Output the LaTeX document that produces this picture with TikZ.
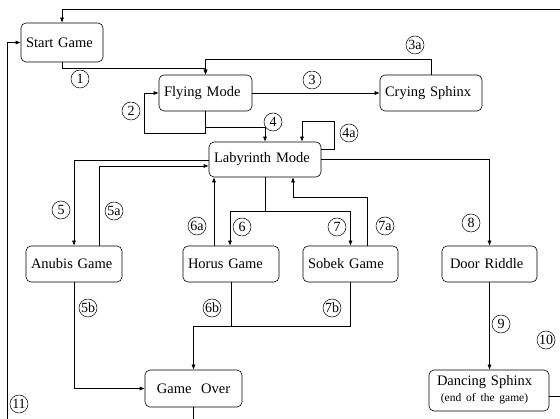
\documentclass[tikz,border=0pt]{standalone}
\usepackage{fontspec}
\setmainfont{Liberation Serif}
\usetikzlibrary{arrows.meta}
\begin{document}
\begin{tikzpicture}[x=1pt,y=-1pt,
  line width=0.6pt,
  box/.style={draw, rounded corners=5pt, inner xsep=5pt, inner ysep=2pt, align=left, minimum height=36pt, font=\fontsize{14.5}{16}\selectfont},
  num/.style={circle, draw, line width=0.5pt, inner sep=0.2pt, minimum size=18pt, font=\fontsize{14}{14}\selectfont},
  arr/.style={-{Latex[length=5pt,width=4pt]}}]
\useasboundingbox (0,0) rectangle (560,419);
% boxes
\node[box, text width=72pt, minimum height=39pt] (start) at (62,42.5) {Start Game};
\node[box, text width=83pt] (fly) at (205.5,93) {Flying Mode};
\node[box, text width=92pt] (cry) at (431,93) {Crying Sphinx};
\node[box, text width=102pt, minimum height=35pt] (lab) at (265,159.5) {Labyrinth Mode};
\node[box, text width=86pt] (anubis) at (74,264) {Anubis Game};
\node[box, text width=86pt] (horus) at (231,264) {Horus Game};
\node[box, text width=85pt] (sobek) at (350.5,264) {Sobek Game};
\node[box, text width=85pt] (door) at (489.5,264) {\hspace{3pt}Door Riddle};
\node[box, text width=87pt, align=center, minimum height=37pt] (over) at (193.5,388.5) {Game\ \ Over};
\node[box, text width=110pt, minimum height=41pt] (dance) at (489,390.5) {\hspace{3pt}\begin{tabular}{@{}c@{}}Dancing Sphinx\\[0pt]{\fontsize{11.5}{12}\selectfont (end of the game)}\end{tabular}};
% free ends
\coordinate (topR) at (560,9);
\coordinate (leftB) at (7,419);
\coordinate (overB) at (193.5,419);
\coordinate (danceR) at (560,396);
% connectors
\draw[arr] (topR) -| (start.north);
\draw[arr] (leftB) |- (start.west);
\draw[arr] (start.south) -- ++(0,6) -| (fly.north);
\draw[arr] (cry.north) -- ++(0,-15) -| (fly.north);
\draw[arr] (fly.east) -- (cry.west);
\draw[arr] (fly.south) -- ++(0,22) -- ++(-61.5,0) |- (fly.west);
\draw[arr] (fly.south) -- ++(0,16) -| (lab.north);
\draw[arr] ([yshift=10.5pt]lab.east) -- ++(13,0) -- ++(0,-28) -| ([xshift=37pt]lab.north);
\draw[arr] (lab.east) -| (door.north);
\draw[arr] ([yshift=-1pt]lab.west) -| (anubis.north);
\draw[arr] ([xshift=25pt]anubis.north) |- ([yshift=-6.5pt]lab.west);
\draw[arr] (lab.south) -- ++(0,34) -| ([xshift=-1pt]horus.north);
\draw[arr] (lab.south) -- ++(0,34) -| (sobek.north);
\draw[arr] ([xshift=-17pt]horus.north) -- ([xshift=-51pt]lab.south);
\draw[arr] ([xshift=16.5pt]sobek.north) -- ++(0,-48) -| ([xshift=28pt]lab.south);
\draw[arr] (anubis.south) |- (over.west);
\draw (horus.south) -- ++(0,44);
\draw[arr] (sobek.south) -- ++(0,44) -| (over.north);
\draw (over.south) -- (overB);
\draw ([yshift=-5.5pt]dance.east) -- (danceR);
\draw[arr] (door.south) -- (door.south |- dance.north);
% labels
\node[num] (n1) at (80,79) {1};
\node[num] (n2) at (131,111) {2};
\node[num] (n3) at (312,80) {3};
\node[num] (n3a) at (415,45) {3a};
\node[num] (n4) at (273,122) {4};
\node[num] (n4a) at (349,133) {4a};
\node[num] (n5) at (61,210) {5};
\node[num] (n5a) at (114,211) {5a};
\node[num] (n6a) at (197,226) {6a};
\node[num] (n6) at (242,227) {6};
\node[num] (n7) at (337,227) {7};
\node[num] (n7a) at (385,226) {7a};
\node[num] (n8) at (471,223) {8};
\node[num] (n5b) at (88,308) {5b};
\node[num] (n6b) at (212,308) {6b};
\node[num] (n7b) at (332,308) {7b};
\node[num] (n9) at (501,324) {9};
\node[num] (n10) at (546,340) {10};
\node[num] (n11) at (19,404) {11};
\end{tikzpicture}
\end{document}
